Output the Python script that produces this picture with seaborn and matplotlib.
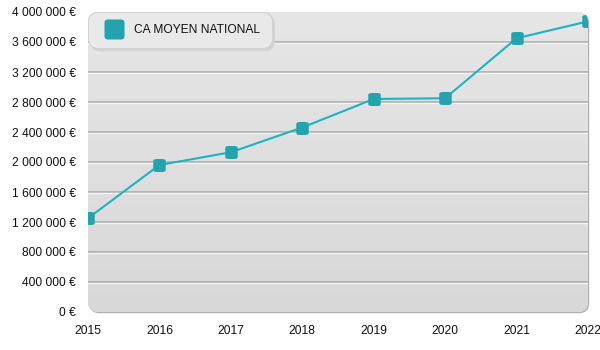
import numpy as np
import matplotlib
matplotlib.use("Agg")
import matplotlib.pyplot as plt
import seaborn as sns
from matplotlib.path import Path
from matplotlib.patches import FancyBboxPatch
from matplotlib.lines import Line2D
from matplotlib.colors import LinearSegmentedColormap
import matplotlib.transforms as mtransforms

# ---- data ----
years = [2015, 2016, 2017, 2018, 2019, 2020, 2021, 2022]
ca_values = [1250000, 1960000, 2130000, 2460000, 2840000, 2850000, 3650000, 3875000]
y_ticks = [0, 400000, 800000, 1200000, 1600000, 2000000, 2400000, 2800000,
           3200000, 3600000, 4000000]
series_label = "CA MOYEN NATIONAL"

sns.set_theme(style="white")
plt.rcParams['font.family'] = ['Liberation Sans', 'DejaVu Sans']

FS = 8.64
LINE_COLOR = '#1cb4c3'
MARKER_COLOR = '#22a3ae'


def rounded_square(r=0.3, n=8):
    pts = []
    corners = [(1 - r, -1 + r, -np.pi / 2, 0), (1 - r, 1 - r, 0, np.pi / 2),
               (-1 + r, 1 - r, np.pi / 2, np.pi), (-1 + r, -1 + r, np.pi, 1.5 * np.pi)]
    for cx, cy, a0, a1 in corners:
        for a in np.linspace(a0, a1, n):
            pts.append((cx + r * np.cos(a), cy + r * np.sin(a)))
    pts.append(pts[0])
    codes = [Path.MOVETO] + [Path.LINETO] * (len(pts) - 2) + [Path.CLOSEPOLY]
    return Path(pts, codes)


rsq = rounded_square()

fig = plt.figure(figsize=(6, 3.5), dpi=100)
fig.patch.set_facecolor('white')
ax = fig.add_axes([88 / 600, 1 - 312 / 350, 500 / 600, 300 / 350])
ax.set_facecolor('none')
for s in ax.spines.values():
    s.set_visible(False)

# rounded plot background with shadow
box_kw = dict(boxstyle="round,pad=0,rounding_size=0.02", mutation_aspect=500 / 300)
shadow_tr = ax.transAxes + mtransforms.ScaledTranslation(1.2 / 100, -1.2 / 100, fig.dpi_scale_trans)
shadow = FancyBboxPatch((0, 0), 1, 1, transform=shadow_tr, facecolor='#b0b0b0',
                        edgecolor='none', zorder=0, clip_on=False, **box_kw)
ax.add_patch(shadow)
bg = FancyBboxPatch((0, 0), 1, 1, transform=ax.transAxes, facecolor='#e0e0e0',
                    edgecolor='none', zorder=0.1, clip_on=False, **box_kw)
ax.add_patch(bg)
cmap = LinearSegmentedColormap.from_list('bg', ['#d8d8d8', '#e6e6e6'])
im = ax.imshow(np.linspace(0, 1, 256)[:, None], extent=(0, 1, 0, 1), origin='lower',
               transform=ax.transAxes, cmap=cmap, aspect='auto', zorder=0.2,
               interpolation='bilinear')
im.set_clip_path(bg)

# gridlines (gray with white highlight)
for yv in y_ticks[1:-1]:
    ax.axhline(yv, color='#a8a8a8', lw=1.1, zorder=0.5)
    hl = ax.axhline(yv, color='#f4f4f4', lw=1.0, zorder=0.5)
    hl.set_transform(hl.get_transform() + mtransforms.ScaledTranslation(0, -1.2 / 100, fig.dpi_scale_trans))

# main series
sns.lineplot(x=years, y=ca_values, ax=ax, color=LINE_COLOR, lw=1.5, zorder=3,
             marker=rsq, markersize=9, markerfacecolor=MARKER_COLOR,
             markeredgecolor='none', legend=False)
for ln in ax.lines[-1:]:
    ln.set_clip_path(bg)

ax.set_xlim(years[0], years[-1])
ax.set_ylim(y_ticks[0], y_ticks[-1])
ax.set_xticks(years)
ax.set_xticklabels([str(y) for y in years], fontsize=FS, color='#111111')
ax.set_yticks(y_ticks)
ax.set_yticklabels([f"{v:,}".replace(",", " ") + " €" for v in y_ticks], fontsize=FS, color='#111111')
ax.tick_params(axis='x', length=0, pad=9)
ax.tick_params(axis='y', length=0, pad=9)
ax.grid(False)

# legend
handle = Line2D([], [], ls='none', marker=rsq, markersize=14.4,
                markerfacecolor=MARKER_COLOR, markeredgecolor='none')
leg = ax.legend(handles=[handle], labels=[series_label], loc='upper left',
                bbox_to_anchor=(0, 1), borderaxespad=0, frameon=True, fancybox=True,
                facecolor='#e9e9e9', edgecolor='#d0d0d0', framealpha=1, fontsize=FS,
                borderpad=1.0, handlelength=2.25, handletextpad=0.55,
                shadow={'color': '#d2d2d2', 'alpha': 1})
leg.get_frame().set_boxstyle('round,pad=0,rounding_size=0.8')
leg.get_frame().set_linewidth(0.6)
for t in leg.get_texts():
    t.set_color('#111111')
leg.set_zorder(5)

fig.savefig('out.png', dpi=100, facecolor='white')
